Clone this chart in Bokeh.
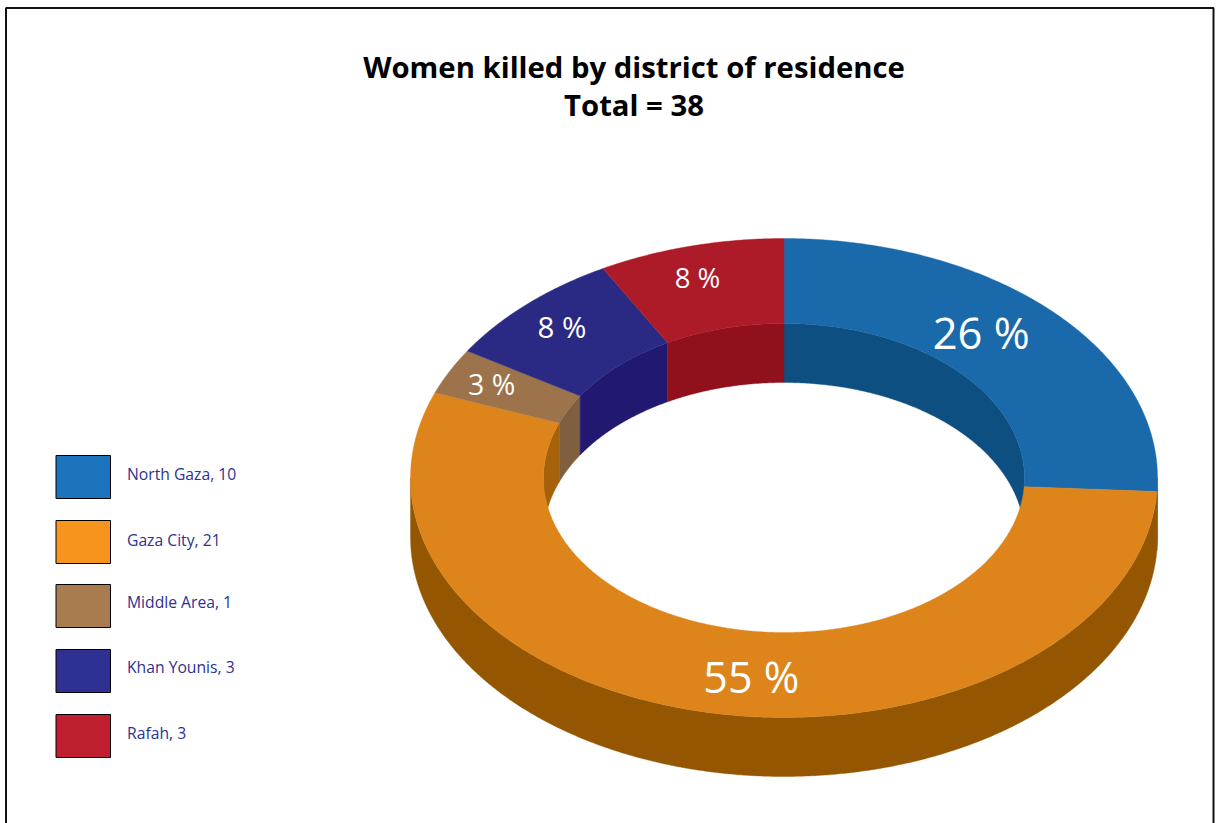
import numpy as np
from bokeh.plotting import figure
from bokeh.models import Range1d
from bokeh.core.properties import value
from bokeh.embed import file_html
from bokeh.resources import INLINE

# ---- data ----
title_lines = ["Women killed by district of residence", "Total = 38"]
districts = ["North Gaza", "Gaza City", "Middle Area", "Khan Younis", "Rafah"]
counts = [10, 21, 1, 3, 3]
percents = [26, 55, 3, 8, 8]
shares = [25.9, 54.9, 3.1, 8.05, 8.05]   # slice sizes

# ---- styles ----
legend_colors = ["#1c75bc", "#f7941d", "#a97c50", "#2e3192", "#be1e2d"]
face_colors = ["#1a6aab", "#dd841b", "#9d734b", "#2a2a84", "#ad1a28"]
wall_colors = ["#0e4f82", "#a6620b", "#7f5f40", "#20196f", "#90101c"]
side_colors = ["#0e4f82", "#945600", "#7f5f40", "#20196f", "#90101c"]
text_sizes = ["43.5px", "43px", "28.5px", "29.5px", "27.5px"]
label_angle = [41.3, 186.1, 296.2, 316.5, 344.3]
label_frac = [0.798, 0.838, 0.874, 0.866, 0.861]
legend_tops = [455, 520, 584, 649, 714]
legend_text_y = [473, 539, 601, 666, 732]
FONT = "Open Sans"

W, H = 1219, 823
CX, CY = 783.5, 477.5
RX, RY = 373.5, 239.5
IRX, IRY = 240.5, 154.5
DEPTH = 59

p = figure(width=W, height=H, output_backend="svg", toolbar_location=None,
           x_range=Range1d(0, W), y_range=Range1d(H, 0),
           min_border=0, outline_line_color=None, background_fill_color="white",
           border_fill_color="white")
p.axis.visible = False
p.grid.visible = False

# frame
p.quad(left=[5.5], right=[1213], top=[7.5], bottom=[H + 20],
       fill_color=None, line_color="#111111", line_width=2)


def arc(rx, ry, t0, t1, dy=0.0):
    t = np.radians(np.linspace(t0, t1, max(int(abs(t1 - t0) * 3), 2)))
    return CX + rx * np.sin(t), CY - ry * np.cos(t) + dy


def band(rx, ry, t0, t1):
    x1, y1 = arc(rx, ry, t0, t1)
    x2, y2 = arc(rx, ry, t1, t0, DEPTH)
    return np.r_[x1, x2], np.r_[y1, y2]


def draw(xs, ys, c):
    p.patch(xs, ys, fill_color=c, line_color=c, line_width=0.4)


edges = np.r_[0, np.cumsum(shares)] * 3.6
spans = list(zip(edges[:-1], edges[1:]))

# outer side (front half only)
for (t0, t1), c in zip(spans, side_colors):
    a, b = max(t0, 90), min(t1, 270)
    if b > a:
        draw(*band(RX, RY, a, b), c)

# inner wall (back half only)
for (t0, t1), c in zip(spans, wall_colors):
    for a, b in ((t0, min(t1, 90)), (max(t0, 270), t1)):
        if b > a:
            draw(*band(IRX, IRY, a, b), c)

# top face
for (t0, t1), c in zip(spans, face_colors):
    xo, yo = arc(RX, RY, t0, t1)
    xi, yi = arc(IRX, IRY, t1, t0)
    draw(np.r_[xo, xi], np.r_[yo, yi], c)

# percentage labels
for pct, ang, f, sz in zip(percents, label_angle, label_frac, text_sizes):
    t = np.radians(ang)
    p.text([CX + 0.5 + f * RX * np.sin(t)], [CY - 1.5 - f * RY * np.cos(t)], text=[f"{pct} %"],
           text_color="white", text_font=value(FONT), text_font_size=sz,
           text_align="center", text_baseline="middle")

# legend
for name, n, col, top, ty in zip(districts, counts, legend_colors, legend_tops, legend_text_y):
    p.quad(left=[55.5], right=[110], top=[top], bottom=[top + 43],
           fill_color=col, line_color="#000000", line_width=1)
    p.text([126.5], [ty], text=[f"{name}, {n}"], text_color="#2e3192",
           text_font=value(FONT), text_font_size="15.7px",
           text_align="left", text_baseline="middle")

# title
for line, y in zip(title_lines, [66, 104]):
    p.text([633.5], [y], text=[line], text_color="#000000", text_font=value(FONT),
           text_font_size="29.3px", text_font_style="bold",
           text_align="center", text_baseline="middle")

open("out.html", "w").write(file_html(p, INLINE))
